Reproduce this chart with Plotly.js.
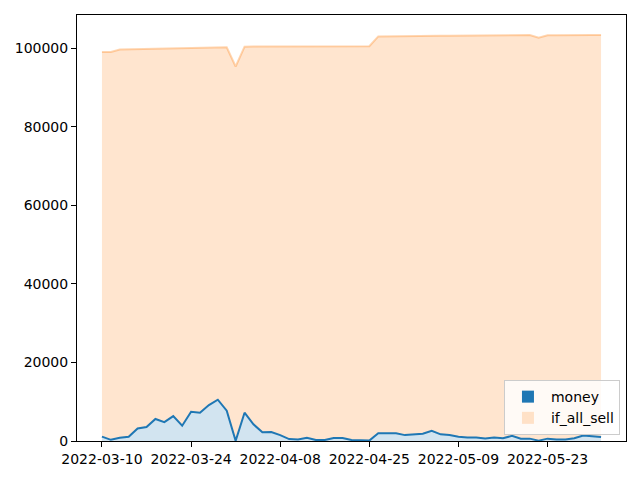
<!DOCTYPE html>
<html>
<head>
<meta charset="utf-8">
<script src="https://cdn.plot.ly/plotly-3.0.1.min.js"></script>
<style>html,body{margin:0;padding:0;background:#fff;}#chart{width:640px;height:480px;}</style>
</head>
<body>
<div id="chart"></div>
<script>
const dates = [
  "2022-03-10","2022-03-11","2022-03-14","2022-03-15","2022-03-16","2022-03-17","2022-03-18","2022-03-21","2022-03-22","2022-03-23",
  "2022-03-24","2022-03-25","2022-03-28","2022-03-29","2022-03-30","2022-03-31","2022-04-01","2022-04-05","2022-04-06","2022-04-07",
  "2022-04-08","2022-04-11","2022-04-12","2022-04-13","2022-04-14","2022-04-18","2022-04-19","2022-04-20","2022-04-21","2022-04-22",
  "2022-04-25","2022-04-26","2022-04-27","2022-04-28","2022-04-29","2022-05-02","2022-05-03","2022-05-04","2022-05-05","2022-05-06",
  "2022-05-09","2022-05-10","2022-05-11","2022-05-12","2022-05-13","2022-05-16","2022-05-17","2022-05-18","2022-05-19","2022-05-20",
  "2022-05-23","2022-05-24","2022-05-25","2022-05-26","2022-05-27","2022-05-30","2022-05-31"
];
const money = [
  1100, 300, 850, 1100, 3200, 3550, 5600, 4800, 6350, 3900,
  7450, 7200, 9150, 10500, 7700, 50, 7200, 4250, 2200, 2300,
  1500, 500, 400, 850, 250, 250, 750, 750, 250, 150,
  100, 1950, 1950, 1950, 1500, 1750, 1850, 2600, 1700, 1500,
  1100, 900, 900, 650, 900, 700, 1300, 600, 600, 100,
  600, 400, 400, 700, 1400, 1200, 1000
];
const ifAllSell = [
  99000, 99000, 99600, 99650, 99700, 99750, 99800, 99850, 99900, 99950,
  100000, 100050, 100100, 100150, 100200, 95300, 100350, 100400, 100400, 100400,
  100400, 100400, 100400, 100400, 100400, 100450, 100450, 100450, 100500, 100500,
  100450, 102950, 103000, 103000, 103050, 103050, 103100, 103100, 103150, 103150,
  103150, 103200, 103200, 103200, 103250, 103250, 103250, 103300, 103300, 102600,
  103250, 103250, 103300, 103300, 103300, 103300, 103300
];
const seriesNames = ["money", "if_all_sell"];
const tickStep = 10;

const idx = dates.map((d, i) => i);
const tickvals = idx.filter(i => i % tickStep === 0);
const ticktext = tickvals.map(i => dates[i]);

const traces = [
  {
    x: idx, y: money, type: "scatter", mode: "lines",
    line: {color: "#1f77b4", width: 2},
    fill: "tozeroy", fillcolor: "rgba(31,119,180,0.2)",
    showlegend: false, hoverinfo: "skip"
  },
  {
    x: idx, y: ifAllSell, type: "scatter", mode: "lines",
    line: {color: "rgba(255,127,14,0.32)", width: 2},
    fill: "tonexty", fillcolor: "rgba(255,127,14,0.2)",
    showlegend: false, hoverinfo: "skip"
  },
  {
    x: [null], y: [null], type: "bar", name: seriesNames[0],
    marker: {color: "#1f77b4"}, showlegend: true
  },
  {
    x: [null], y: [null], type: "bar", name: seriesNames[1],
    marker: {color: "rgba(255,127,14,0.2)"}, showlegend: true
  }
];

const axisCommon = {
  showline: true, linecolor: "#000", linewidth: 1, mirror: true,
  ticks: "outside", ticklen: 5, tickwidth: 1, tickcolor: "#000",
  showgrid: false, zeroline: false,
  tickfont: {family: "DejaVu Sans", size: 14, color: "#000"}
};

const layout = {
  width: 640, height: 480,
  margin: {l: 77, r: 14, t: 15, b: 39},
  paper_bgcolor: "#fff", plot_bgcolor: "#fff",
  font: {family: "DejaVu Sans", size: 14, color: "#000"},
  xaxis: Object.assign({}, axisCommon, {
    range: [-2.8, 58.8], tickmode: "array", tickvals: tickvals, ticktext: ticktext
  }),
  yaxis: Object.assign({}, axisCommon, {
    range: [0, 108400], tickmode: "array",
    tickvals: [0, 20000, 40000, 60000, 80000, 100000],
    ticktext: ["0", "20000", "40000", "60000", "80000", "100000"]
  }),
  legend: {
    x: 0.989, y: 0.014, xanchor: "right", yanchor: "bottom",
    bgcolor: "rgba(255,255,255,0.8)", bordercolor: "#cccccc", borderwidth: 1,
    font: {family: "DejaVu Sans", size: 14, color: "#000"},
    traceorder: "normal", tracegroupgap: 0, itemwidth: 36
  },
  showlegend: true
};

Plotly.newPlot("chart", traces, layout, {staticPlot: true, displayModeBar: false});
</script>
</body>
</html>
